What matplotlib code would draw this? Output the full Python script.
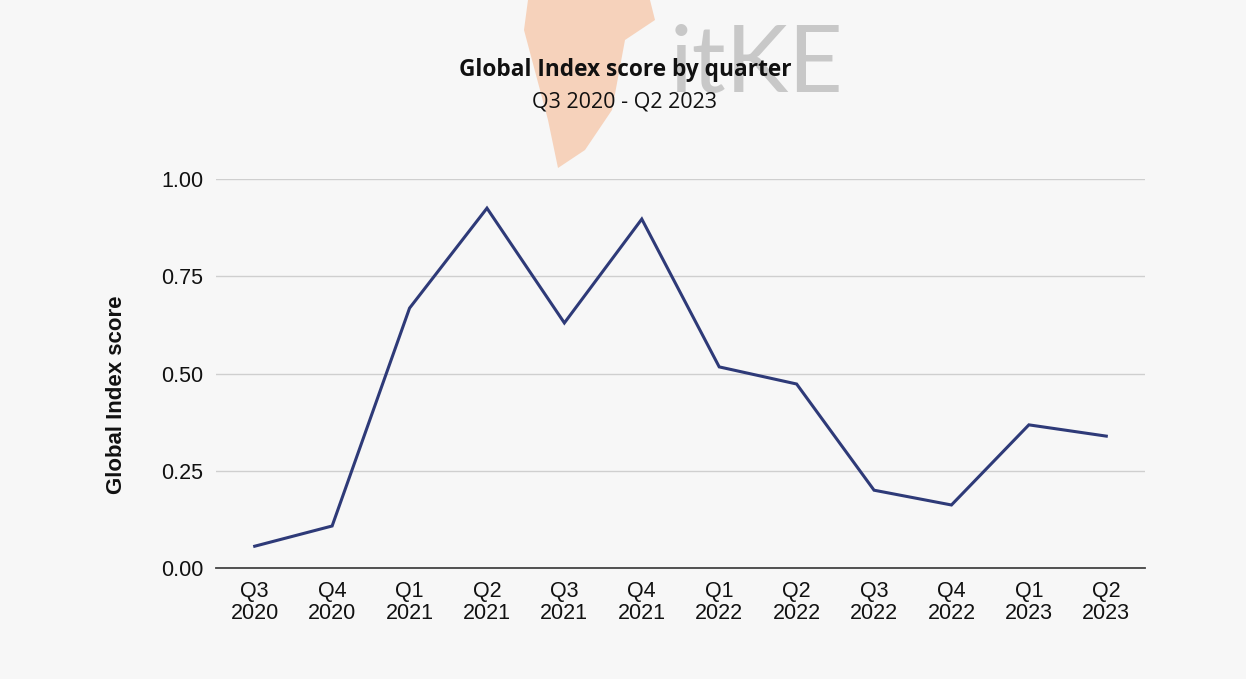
import matplotlib
matplotlib.use("Agg")
import matplotlib.pyplot as plt
from matplotlib.patches import Polygon

quarters = ["Q3\n2020", "Q4\n2020", "Q1\n2021", "Q2\n2021", "Q3\n2021", "Q4\n2021",
            "Q1\n2022", "Q2\n2022", "Q3\n2022", "Q4\n2022", "Q1\n2023", "Q2\n2023"]
scores = [0.056, 0.108, 0.668, 0.925, 0.630, 0.897, 0.517, 0.473, 0.200, 0.162, 0.368, 0.339]
yticks = [0.0, 0.25, 0.5, 0.75, 1.0]
ytick_labels = ["0.00", "0.25", "0.50", "0.75", "1.00"]

W, H = 1246, 679
bg = "#f7f7f7"
fig = plt.figure(figsize=(W / 100, H / 100), dpi=100, facecolor=bg)

# watermark (decorative)
blob = Polygon([(528/W, 1 - 0/H), (650/W, 1 - 0/H), (655/W, 1 - 20/H), (625/W, 1 - 40/H),
                (612/W, 1 - 110/H), (585/W, 1 - 150/H), (558/W, 1 - 168/H), (548/W, 1 - 120/H),
                (524/W, 1 - 30/H)],
               closed=True, transform=fig.transFigure, facecolor="#f6d2bb", edgecolor="none",
               zorder=0)
fig.patches.append(blob)
fig.text(757/W, 1 - 66/H, "itKE", fontsize=68, color="#c8c8c8", family="Lato",
         fontweight="normal", ha="center", va="center", zorder=0.5)

ax = fig.add_axes([216/W, 1 - 568/H, (1145 - 216)/W, (568 - 179)/H])
ax.set_facecolor("none")
x = list(range(len(quarters)))
ax.plot(x, scores, color="#2e3a78", linewidth=2.2, zorder=3, solid_joinstyle="miter")

ax.set_xlim(-0.5, len(quarters) - 0.5)
ax.set_ylim(0, 1.0)
ax.set_yticks(yticks)
ax.set_yticklabels(ytick_labels)
ax.set_xticks(x)
ax.set_xticklabels(quarters, linespacing=1.1)
ax.grid(axis="y", color="#cfcfcf", linewidth=1.0, zorder=1)
ax.set_axisbelow(True)
for s in ["top", "right", "left"]:
    ax.spines[s].set_visible(False)
ax.spines["bottom"].set_color("#444444")
ax.spines["bottom"].set_linewidth(1.3)
ax.spines["bottom"].set_zorder(2)
ax.tick_params(axis="both", length=0, labelsize=15.5, labelcolor="#111111")
ax.tick_params(axis="y", pad=9)
ax.tick_params(axis="x", pad=9)
for lbl in ax.get_xticklabels() + ax.get_yticklabels():
    lbl.set_family("Liberation Sans")

fig.text(116/W, 1 - 395/H, "Global Index score", rotation=90, fontsize=16,
         fontweight="bold", family="Liberation Sans", ha="center", va="center", color="#111111")

fig.text(625/W, 1 - 70/H, "Global Index score by quarter", fontsize=16.3, fontweight="bold",
         family="Open Sans", ha="center", va="center", color="#111111")
fig.text(624/W, 1 - 102/H, "Q3 2020 - Q2 2023", fontsize=15.5, family="Open Sans",
         ha="center", va="center", color="#111111")

fig.savefig("out.png", dpi=100, facecolor=bg)
